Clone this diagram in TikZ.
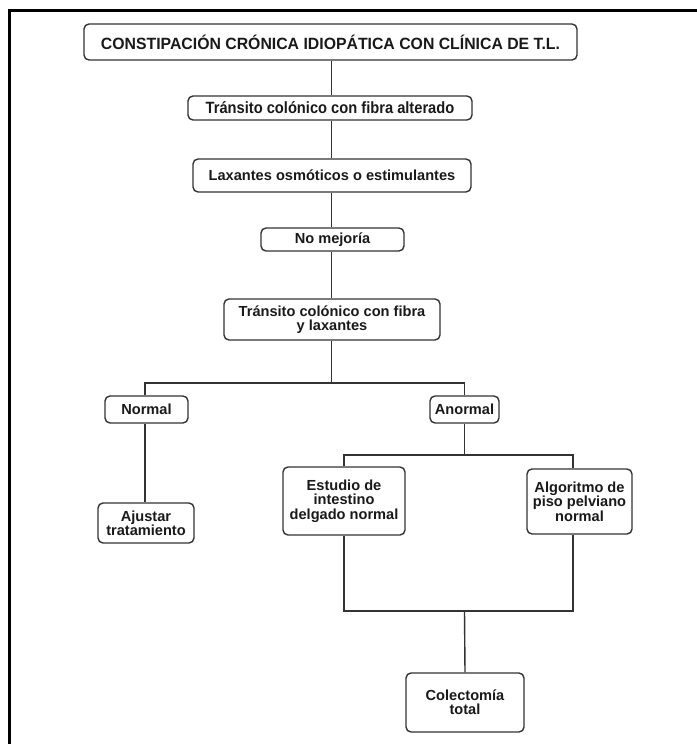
\documentclass[tikz,border=0pt]{standalone}
\usepackage{fontspec}
\setmainfont{Liberation Sans}
\newfontfamily\condfont[FakeStretch=0.9]{Liberation Sans}
\newfontfamily\slcondfont[FakeStretch=0.97]{Liberation Sans}
\begin{document}
\begin{tikzpicture}[x=1pt,y=-1pt,
  boxst/.style={draw=black!80, line width=1.4pt, rounded corners=5pt, inner sep=0pt,
    align=center, text=black!90, font=\bfseries\fontsize{14.6}{14.3}\selectfont},
  conn/.style={draw=black!80, line width=1.4pt},
  framest/.style={draw=black, line width=3pt}]
\useasboundingbox (0,0) rectangle (696,744);
\draw[framest] (9.5,745) -- (9.5,10.5) -- (697,10.5);
\node[boxst, minimum width=493pt, minimum height=36pt, font=\slcondfont\bfseries\fontsize{16.3}{16}\selectfont] (b1) at (330.5,42) {CONSTIPACIÓN CRÓNICA IDIOPÁTICA CON CLÍNICA DE T.L.};
\node[boxst, minimum width=284pt, minimum height=24pt, font=\condfont\bfseries\fontsize{16.3}{16}\selectfont] (b2) at (330,108) {Tránsito colónico con fibra alterado};
\node[boxst, minimum width=278pt, minimum height=33pt] (b3) at (332,175.5) {Laxantes osmóticos o estimulantes};
\node[boxst, minimum width=143pt, minimum height=23pt] (b4) at (332.5,239.5) {No mejoría};
\node[boxst, minimum width=216pt, minimum height=41pt] (b5) at (332,319.5) {Tránsito colónico con fibra\\y laxantes};
\node[boxst, minimum width=83pt, minimum height=27pt] (nor) at (146.5,409.5) {Normal};
\node[boxst, minimum width=69pt, minimum height=27pt] (anor) at (464.5,409.5) {Anormal};
\node[boxst, minimum width=96pt, minimum height=40pt] (aju) at (146,523) {Ajustar\\tratamiento};
\node[boxst, minimum width=122pt, minimum height=68pt] (est) at (344,501) {Estudio de\\intestino\\delgado normal};
\node[boxst, minimum width=105pt, minimum height=65pt] (alg) at (579.5,501.5) {Algoritmo de\\piso pelviano\\normal};
\node[boxst, minimum width=118pt, minimum height=59pt] (col) at (465,702.5) {Colectomía\\total};
\coordinate (sp) at (331.5,0);
\coordinate (kn) at (145,0);
\coordinate (j1) at (331.5,383);
\coordinate (j2) at (464.5,455);
\coordinate (ka) at (573,455);
\coordinate (j3) at (464.5,611);
\draw[conn] (b1.south -| sp) -- (b2.north -| sp);
\draw[conn] (b2.south -| sp) -- (b3.north -| sp);
\draw[conn] (b3.south -| sp) -- (b4.north -| sp);
\draw[conn] (b4.south -| sp) -- (b5.north -| sp);
\draw[conn] (b5.south -| sp) -- (j1);
\draw[conn] (nor.north -| kn) |- (j1) -| (anor.north);
\draw[conn] (nor.south -| kn) -- (aju.north -| kn);
\draw[conn] (anor.south) -- (j2);
\draw[conn] (est.north) |- (j2) -- (ka) -- (ka |- alg.north);
\draw[conn] (est.south) |- (j3);
\draw[conn] (ka |- alg.south) |- (j3);
\draw[conn] (j3) -- (col.north);
\end{tikzpicture}
\end{document}
